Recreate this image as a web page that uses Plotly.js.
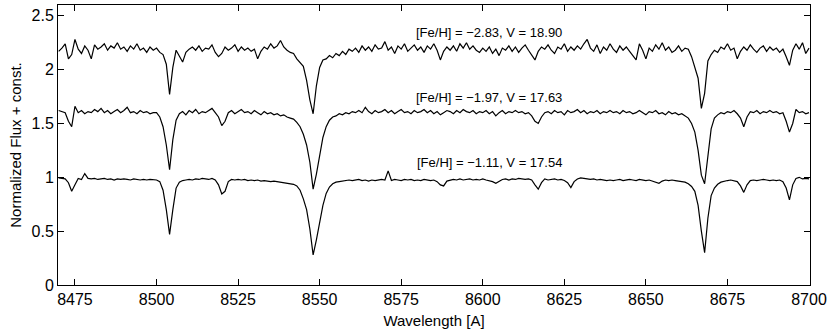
<!DOCTYPE html>
<html>
<head>
<meta charset="utf-8">
<script src="https://cdn.plot.ly/plotly-3.0.1.min.js"></script>
<style>
  html, body { margin: 0; padding: 0; background: white; }
  #plotly-div { width: 830px; height: 333px; }
</style>
</head>
<body>
<div id="plotly-div"></div>
<script>
// Wavelength grid of the spectra: first pixel and step (Angstrom)
const waveStart = 8470;
const waveStep = 1;

// Spectrum 1 - [Fe/H] = -2.83 (offset by +1.2)
const fluxMetalPoor = [
    2.17, 2.20, 2.24, 2.10, 2.14, 2.28, 2.19, 2.15, 2.22, 2.18,
    2.10, 2.23, 2.19, 2.21, 2.24, 2.18, 2.22, 2.20, 2.25, 2.19,
    2.21, 2.17, 2.22, 2.19, 2.24, 2.18, 2.20, 2.16, 2.21, 2.18,
    2.20, 2.16, 2.14, 2.05, 1.77, 2.02, 2.18, 2.12, 2.07, 2.16,
    2.19, 2.21, 2.18, 2.22, 2.17, 2.20, 2.19, 2.23, 2.16, 2.12,
    2.15, 2.21, 2.18, 2.20, 2.23, 2.17, 2.21, 2.18, 2.20, 2.17,
    2.19, 2.10, 2.17, 2.21, 2.19, 2.24, 2.20, 2.22, 2.27, 2.21,
    2.18, 2.16, 2.15, 2.10, 2.06, 2.03, 1.90, 1.72, 1.59, 1.85,
    2.02, 2.09, 2.10, 2.13, 2.11, 2.15, 2.13, 2.17, 2.14, 2.19,
    2.17, 2.20, 2.16, 2.22, 2.18, 2.21, 2.17, 2.23, 2.19, 2.20,
    2.26, 2.18, 2.21, 2.15, 2.22, 2.19, 2.24, 2.17, 2.20, 2.23,
    2.18, 2.21, 2.16, 2.22, 2.19, 2.24, 2.18, 2.09, 2.17, 2.21,
    2.18, 2.22, 2.17, 2.24, 2.20, 2.25, 2.19, 2.22, 2.18, 2.16,
    2.20, 2.17, 2.21, 2.15, 2.19, 2.13, 2.20, 2.18, 2.22, 2.17,
    2.21, 2.16, 2.20, 2.23, 2.18, 2.14, 2.09, 2.17, 2.21, 2.19,
    2.23, 2.18, 2.15, 2.21, 2.19, 2.24, 2.17, 2.21, 2.18, 2.22,
    2.19, 2.24, 2.28, 2.20, 2.17, 2.23, 2.15, 2.21, 2.18, 2.24,
    2.19, 2.16, 2.22, 2.18, 2.21, 2.17, 2.13, 2.09, 2.24, 2.18,
    2.10, 2.20, 2.17, 2.23, 2.19, 2.25, 2.18, 2.21, 2.16, 2.18,
    2.22, 2.17, 2.20, 2.19, 2.12, 2.02, 1.92, 1.64, 1.78, 2.08,
    2.14, 2.18, 2.16, 2.21, 2.19, 2.24, 2.18, 2.20, 2.10, 2.17,
    2.21, 2.18, 2.23, 2.19, 2.16, 2.20, 2.22, 2.17, 2.21, 2.18,
    2.20, 2.16, 2.19, 2.12, 2.04, 2.18, 2.24, 2.19, 2.25, 2.15,
    2.20
];

// Spectrum 2 - [Fe/H] = -1.97 (offset by +0.6)
const fluxMidMetal = [
    1.62, 1.61, 1.60, 1.52, 1.47, 1.66, 1.60, 1.62, 1.59, 1.61,
    1.60, 1.63, 1.61, 1.64, 1.60, 1.62, 1.59, 1.61, 1.63, 1.60,
    1.62, 1.65, 1.60, 1.61, 1.59, 1.62, 1.60, 1.61, 1.59, 1.60,
    1.60, 1.56, 1.47, 1.30, 1.07, 1.35, 1.53, 1.59, 1.61, 1.58,
    1.62, 1.60, 1.63, 1.59, 1.61, 1.60, 1.62, 1.64, 1.60, 1.56,
    1.48, 1.52, 1.60, 1.62, 1.59, 1.61, 1.63, 1.60, 1.61, 1.59,
    1.62, 1.60, 1.58, 1.61, 1.59, 1.60, 1.58, 1.59, 1.57, 1.58,
    1.56, 1.55, 1.54, 1.51, 1.47, 1.40, 1.30, 1.14, 0.89, 1.03,
    1.22, 1.37, 1.47, 1.53, 1.56, 1.57, 1.59, 1.58, 1.60, 1.59,
    1.61, 1.60, 1.62, 1.60, 1.65, 1.61, 1.59, 1.62, 1.60, 1.61,
    1.63, 1.60, 1.62, 1.59, 1.61, 1.63, 1.60, 1.61, 1.59, 1.62,
    1.60, 1.61, 1.63, 1.60, 1.62, 1.59, 1.61, 1.58, 1.60, 1.62,
    1.61, 1.59, 1.62, 1.60, 1.63, 1.61, 1.60, 1.62, 1.59, 1.61,
    1.60, 1.62, 1.59, 1.61, 1.57, 1.60, 1.62, 1.59, 1.61, 1.60,
    1.62, 1.60, 1.61, 1.59, 1.60, 1.57, 1.52, 1.50, 1.56, 1.60,
    1.61, 1.59, 1.62, 1.60, 1.61, 1.58, 1.62, 1.60, 1.61, 1.63,
    1.60, 1.62, 1.59, 1.61, 1.60, 1.62, 1.59, 1.61, 1.60, 1.62,
    1.60, 1.61, 1.59, 1.62, 1.60, 1.61, 1.59, 1.60, 1.62, 1.60,
    1.58, 1.61, 1.60, 1.62, 1.59, 1.60, 1.58, 1.61, 1.59, 1.60,
    1.58, 1.59, 1.57, 1.55, 1.50, 1.42, 1.25, 1.02, 0.94, 1.22,
    1.45, 1.55, 1.58, 1.60, 1.59, 1.61, 1.60, 1.62, 1.59, 1.55,
    1.47, 1.56, 1.61, 1.60, 1.62, 1.59, 1.61, 1.60, 1.62, 1.60,
    1.61, 1.59, 1.60, 1.52, 1.42, 1.50, 1.63, 1.60, 1.61, 1.59,
    1.60
];

// Spectrum 3 - [Fe/H] = -1.11 (no offset)
const fluxMetalRich = [
    0.995, 0.99, 0.985, 0.95, 0.87, 0.93, 0.99, 0.98, 1.035, 0.99,
    0.985, 0.99, 0.98, 0.985, 0.99, 0.98, 0.985, 0.975, 0.985, 0.98,
    0.985, 0.98, 0.975, 0.985, 0.98, 0.975, 0.98, 0.975, 0.98, 0.975,
    0.975, 0.96, 0.88, 0.70, 0.47, 0.70, 0.90, 0.955, 0.97, 0.975,
    0.98, 0.975, 0.985, 0.98, 0.99, 0.985, 0.98, 0.99, 0.975, 0.93,
    0.845, 0.87, 0.96, 0.98, 0.975, 0.98, 0.975, 0.98, 0.97, 0.975,
    0.97, 0.975, 0.965, 0.97, 0.965, 0.96, 0.965, 0.96, 0.955, 0.955,
    0.95, 0.945, 0.935, 0.92, 0.88, 0.80, 0.70, 0.52, 0.28, 0.42,
    0.60, 0.74, 0.85, 0.91, 0.94, 0.955, 0.96, 0.965, 0.97, 0.975,
    0.97, 0.975, 0.98, 0.97, 0.975, 0.965, 0.975, 0.97, 0.975, 0.98,
    0.975, 1.06, 0.97, 0.98, 0.975, 0.97, 0.98, 0.975, 0.98, 0.97,
    0.975, 0.97, 0.98, 0.975, 0.97, 0.975, 0.96, 0.93, 0.92, 0.965,
    0.975, 0.98, 0.975, 0.985, 0.975, 0.98, 0.985, 0.975, 0.98, 0.975,
    0.985, 0.975, 0.97, 0.96, 0.945, 0.965, 0.98, 0.985, 0.975, 0.985,
    0.98, 0.99, 0.985, 0.98, 0.985, 0.975, 0.93, 0.89, 0.95, 0.985,
    0.975, 0.98, 0.985, 0.975, 0.98, 0.97, 0.95, 0.905, 0.96, 0.985,
    0.995, 0.99, 0.985, 0.98, 0.985, 0.975, 0.98, 0.975, 0.97, 0.975,
    0.97, 0.975, 0.98, 0.97, 0.975, 0.98, 0.975, 0.97, 0.98, 0.975,
    0.97, 0.975, 0.965, 0.955, 0.945, 0.965, 0.975, 0.97, 0.975, 0.97,
    0.965, 0.96, 0.955, 0.94, 0.915, 0.87, 0.74, 0.50, 0.30, 0.62,
    0.83, 0.90, 0.935, 0.955, 0.965, 0.97, 0.975, 0.97, 0.96, 0.92,
    0.86, 0.93, 0.97, 0.975, 0.97, 0.975, 0.98, 0.975, 0.97, 0.975,
    0.97, 0.975, 0.96, 0.90, 0.79, 0.93, 0.99, 1.00, 0.985, 0.99,
    0.985
];

// Labels written next to each spectrum
const labelTexts = [
    "[Fe/H] = \u22122.83, V = 18.90",
    "[Fe/H] = \u22121.97, V = 17.63",
    "[Fe/H] = \u22121.11, V = 17.54"
];
const labelWave = [8602, 8602, 8602];
const labelFlux = [2.345, 1.745, 1.135];

const fontFamily = "Liberation Sans, Arial, Helvetica, sans-serif";

function spectrumTrace(flux) {
    return {
        x0: waveStart,
        dx: waveStep,
        y: flux,
        type: "scatter",
        mode: "lines",
        line: {color: "black", width: 1.2},
        hoverinfo: "skip"
    };
}

function plotData() {
    const data = [
        spectrumTrace(fluxMetalPoor),
        spectrumTrace(fluxMidMetal),
        spectrumTrace(fluxMetalRich)
    ];

    const annotations = labelTexts.map((txt, i) => ({
        x: labelWave[i],
        y: labelFlux[i],
        text: txt,
        showarrow: false,
        xanchor: "center",
        yanchor: "middle",
        font: {family: fontFamily, size: 13, color: "black"}
    }));

    const axisCommon = {
        showgrid: false,
        zeroline: false,
        showline: true,
        linecolor: "black",
        linewidth: 1,
        mirror: "ticks",
        ticks: "inside",
        ticklen: 6,
        tickcolor: "black",
        tickfont: {family: fontFamily, size: 16, color: "black"}
    };

    const layout = {
        width: 830,
        height: 333,
        margin: {l: 58, r: 20, t: 5, b: 48},
        paper_bgcolor: "white",
        plot_bgcolor: "white",
        showlegend: false,
        font: {family: fontFamily, color: "black"},
        xaxis: Object.assign({}, axisCommon, {
            range: [8469.8, 8700.3],
            tick0: 8475,
            dtick: 25,
            title: {text: "Wavelength [A]", font: {family: fontFamily, size: 15}, standoff: 8}
        }),
        yaxis: Object.assign({}, axisCommon, {
            range: [0, 2.6],
            tick0: 0,
            dtick: 0.5,
            title: {text: "Normalized Flux + const.", font: {family: fontFamily, size: 15}, standoff: 6}
        }),
        annotations: annotations
    };

    Plotly.newPlot("plotly-div", data, layout, {staticPlot: true});
}

plotData();
</script>
</body>
</html>
